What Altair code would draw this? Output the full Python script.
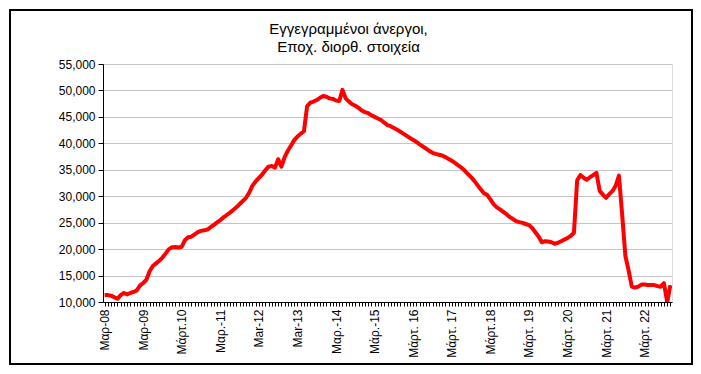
import altair as alt
import pandas as pd

# Monthly registered unemployed (seasonally adjusted), Mar 2008 onwards
values = [
    11300, 11300, 11200, 10900, 10600, 11300, 11700, 11450, 11700, 11900, 12200, 13100,
    13600, 14200, 15800, 16800, 17300, 17800, 18400, 19200, 20000, 20350, 20400, 20300,
    20450, 21700, 22250, 22350, 22800, 23200, 23450, 23550, 23700, 24150, 24600, 25050,
    25500, 26000, 26450, 26900, 27400, 27900, 28500, 29100, 29700, 30700, 32000, 32800,
    33450, 34100, 34900, 35600, 35700, 35400, 37000, 35600, 37400, 38600, 39600, 40600,
    41300, 41800, 42300, 47000, 47700, 47900, 48200, 48600, 48950, 48800, 48500, 48400,
    48100, 48000, 50100, 48500, 47900, 47400, 47100, 46700, 46200, 45900, 45700, 45300,
    45000, 44700, 44400, 43900, 43450, 43250, 42900, 42550, 42200, 41800, 41400, 41000,
    40650, 40250, 39800, 39400, 39000, 38550, 38200, 38000, 37850, 37700, 37400, 37050,
    36700, 36300, 35850, 35400, 34850, 34200, 33600, 32900, 32100, 31300, 30550, 30250,
    29400, 28500, 27900, 27500, 27050, 26600, 26100, 25700, 25300, 25100, 24950, 24750,
    24550, 24000, 23200, 22400, 21300, 21500, 21450, 21300, 21000, 21200, 21500, 21800,
    22100, 22500, 23100, 33000, 34000, 33500, 33100, 33600, 34000, 34400, 31000, 30300,
    29700, 30400, 31000, 32000, 33900, 26500, 18700, 16000, 12900, 12700, 12900, 13300,
    13300, 13200, 13200, 13200, 13000, 12900, 13550, 10000, 13200,
]

# Labels shown at every March (every 12th month)
march_labels = [
    "Μαρ-08", "Μαρ-09", "Μάρτ.10", "Μαρ.-11", "Mar-12", "Mar-13", "Μαρ.-14",
    "Μάρ.-15", "Μάρτ. 16", "Μάρτ. 17", "Μάρτ.18", "Μάρτ. 19", "Μάρτ. 20",
    "Μάρτ. 21", "Μάρτ. 22",
]

y_ticks = [10000, 15000, 20000, 25000, 30000, 35000, 40000, 45000, 50000, 55000]
title_lines = ["Εγγεγραμμένοι άνεργοι,", "Εποχ. διορθ. στοιχεία"]

df = pd.DataFrame({"i": list(range(len(values))), "v": values})
n = len(values)

label_js = "[" + ",".join("'" + s + "'" for s in march_labels) + "]"
label_expr = f"datum.value % 12 == 0 ? {label_js}[datum.value / 12] : ''"

FONT = "Liberation Sans"

x_enc = alt.X(
    "i:Q",
    scale=alt.Scale(domain=[-0.5, n - 0.5], nice=False, zero=False),
    axis=alt.Axis(
        title=None,
        values=list(range(n)),
        labelExpr=label_expr,
        labelAngle=270,
        labelOverlap=False,
        labelFont=FONT,
        labelFontSize=12,
        labelColor="black",
        labelPadding=3,
        grid=False,
        tickColor="black",
        tickSize=4,
        domainColor="black",
        domainWidth=1,
    ),
)

y_enc = alt.Y(
    "v:Q",
    scale=alt.Scale(domain=[10000, 55000], nice=False, zero=False),
    axis=alt.Axis(
        title=None,
        values=y_ticks,
        format=",.0f",
        labelFont=FONT,
        labelFontSize=12,
        labelColor="black",
        labelPadding=3,
        grid=True,
        gridColor="#c4c4c4",
        gridWidth=1,
        tickColor="black",
        tickSize=5,
        domainColor="black",
        domainWidth=1,
    ),
)

line = alt.Chart(df).mark_line(
    color="#ff0000", strokeWidth=4, strokeJoin="round", strokeCap="butt", clip=True
).encode(x=x_enc, y=y_enc)

frame = alt.Chart(pd.DataFrame({"a": [0]})).mark_rect(
    fillOpacity=0, stroke="black", strokeWidth=2
).encode(
    x=alt.value(-93), x2=alt.value(589), y=alt.value(-54), y2=alt.value(300)
)

chart = alt.layer(line, frame).properties(
    width=569,
    height=238,
    autosize=alt.AutoSizeParams(type="none"),
    padding={"left": 95, "top": 56, "right": 21, "bottom": 64},
    title=alt.TitleParams(
        text=title_lines,
        font=FONT,
        fontSize=15,
        fontWeight="normal",
        color="black",
        anchor="middle",
        frame="group",
        dx=-39,
        dy=55,
        offset=9,
        lineHeight=18,
    ),
).configure_view(
    stroke="#a0a0a0", strokeWidth=1
).configure(background="white")

chart.save("out.html", embed_options={"renderer": "svg", "actions": False})
